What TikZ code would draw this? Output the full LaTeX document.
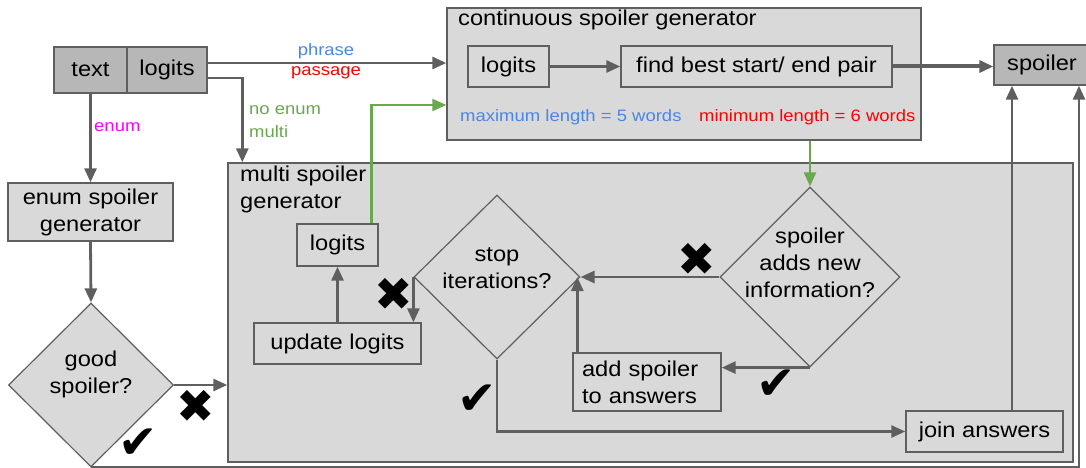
\documentclass[tikz,border=0pt]{standalone}
\usepackage{fontspec}
\setmainfont{Liberation Sans}[FakeStretch=1.1]
\newfontfamily\smallf{Liberation Sans}[FakeStretch=1.12]
\newfontfamily\symf{DejaVu Sans}
\usetikzlibrary{shapes.geometric,arrows.meta,calc}
\definecolor{dark}{HTML}{B7B7B7}
\definecolor{light}{HTML}{D9D9D9}
\definecolor{ln}{HTML}{5F5F5F}
\definecolor{gr}{HTML}{6AA84F}
\definecolor{bl}{HTML}{4A86E8}
\definecolor{rd}{HTML}{FF0000}
\definecolor{mg}{HTML}{FF00FF}
\tikzset{
  mainfont/.style={font=\fontsize{21.5}{27}\selectfont},
  box/.style={draw=ln, line width=1.4pt, fill=light, inner sep=0pt, mainfont, align=center},
  dbox/.style={box, fill=dark},
  dia/.style={draw=ln, line width=1.2pt, fill=light, shape=diamond, inner sep=0pt},
  dtext/.style={mainfont, align=center, inner sep=0pt},
  lab/.style={font=\smallf\fontsize{16.5}{23}\selectfont, inner sep=0pt},
  arr/.style={draw=ln, line width=2.8pt, -{Triangle[length=14pt,width=12pt]}},
  garr/.style={draw=gr, line width=2.3pt, -{Triangle[length=14pt,width=12pt]}},
  cross/.style={font=\symf\fontsize{46}{46}\selectfont, inner sep=0pt},
  check/.style={font=\symf\fontsize{47}{47}\selectfont, inner sep=0pt},
}
\begin{document}
\begin{tikzpicture}[x=1pt,y=-1pt]
\useasboundingbox (0,0) rectangle (1086,468);
% containers
\node[box, minimum width=845pt, minimum height=299pt] (multi) at (650.5,312.5) {};
\node[box, minimum width=474pt, minimum height=132pt] (cont) at (684,74) {};
\node[mainfont, anchor=west, inner sep=0pt] (conttitle) at (458,20) {continuous spoiler generator};
\node[mainfont, anchor=west, align=left, inner sep=0pt] (multititle) at (240,189) {multi spoiler\\generator};
% top-left input
\node[dbox, minimum width=73pt, minimum height=46pt] (text) at (90.5,70) {text};
\node[dbox, minimum width=80pt, minimum height=46pt] (logits) at (167,70) {logits};
% enum branch
\node[box, minimum width=165pt, minimum height=58pt] (enum) at (90.5,212) {enum spoiler\\generator};
\node[dia, minimum width=165pt, minimum height=164pt] (good) at (91,385) {};
\node[dtext] (goodt) at (91,374) {good\\spoiler?};
% continuous generator
\node[box, minimum width=81pt, minimum height=41pt] (logits2) at (508.5,66.5) {logits};
\node[box, minimum width=271pt, minimum height=41pt] (find) at (756.5,66.5) {find best start/ end pair};
\node[lab, text=bl, anchor=west] (maxl) at (460,117) {maximum length = 5 words};
\node[lab, text=rd, anchor=west] (minl) at (699,117) {minimum length = 6 words};
% output
\node[dbox, minimum width=96pt, minimum height=40pt] (spoiler) at (1042,65) {spoiler};
% multi generator
\node[box, minimum width=81pt, minimum height=42pt] (logits3) at (337.5,245) {logits};
\node[box, minimum width=167pt, minimum height=41pt] (update) at (337.5,343.5) {update logits};
\node[dia, minimum width=166pt, minimum height=164pt] (stop) at (497,277) {};
\node[dtext] (stopt) at (497,268) {stop\\iterations?};
\node[dia, minimum width=180pt, minimum height=180pt] (sd) at (810,277) {};
\node[dtext] (sdt) at (810,263) {spoiler\\adds new\\information?};
\node[box, minimum width=148pt, minimum height=58pt, align=left, text width=130pt] (addsp) at (647,382) {add spoiler\\to answers};
\node[box, minimum width=157pt, minimum height=41pt] (join) at (984.5,431.5) {join answers};
% connectors
\coordinate (p1) at ([yshift=7pt]logits.east);
\draw[arr] (p1) -- (p1 -| cont.west);
\node[lab, text=bl] (phrase) at (326,51) {phrase};
\node[lab, text=rd] (passage) at (326,73) {passage};
\coordinate (p2) at ([yshift=-8pt]logits.east);
\draw[arr] (p2) -| ($(multi.north west)+(15,0)$);
\node[lab, text=gr, anchor=west, align=left] (noenum) at (249,122) {no enum\\multi};
\draw[arr] (text.south) -- (enum.north);
\node[lab, text=mg, anchor=west] (enuml) at (94,127) {enum};
\draw[arr] (enum.south) -- (good.north);
\draw[arr] (good.east) -- (good.east -| multi.west);
\coordinate (sp2) at ($(spoiler.south)+(37,0)$);
\draw[arr] (good.south) -| (sp2);
\draw[arr] (logits2.east) -- (find.west);
\draw[draw=ln, line width=4pt, -{Triangle[length=14pt,width=12pt]}] (find.east) -- (find.east -| spoiler.west);
\draw[garr] (cont.south -| sd.north) -- (sd.north);
\coordinate (g1) at ($(logits3.north)+(34,0)$);
\draw[garr] (g1) |- ($(cont.west)+(0,31)$);
\draw[arr] (update.north) -- (logits3.south);
\draw[arr] (stop.west) -- (stop.west |- update.north);
\draw[arr] (sd.west) -- (stop.east);
\draw[arr] (sd.south) -- (sd.south -| addsp.east);
\coordinate (a1) at ($(addsp.north west)+(5,0)$);
\draw[arr] (a1) -- (a1 |- stop.east);
\draw[arr] (stop.south) |- (join.west);
\coordinate (j1) at ($(join.north)+(27.5,0)$);
\draw[arr] (j1) -- (j1 |- spoiler.south);
% marks
\node[cross] (x1) at (196,406) {✖};
\node[cross] (x2) at (394,294) {✖};
\node[cross] (x3) at (697,259) {✖};
\node[check] (c1) at (138,444) {✔};
\node[check] (c2) at (477,400) {✔};
\node[check] (c3) at (776,385) {✔};
\end{tikzpicture}
\end{document}
